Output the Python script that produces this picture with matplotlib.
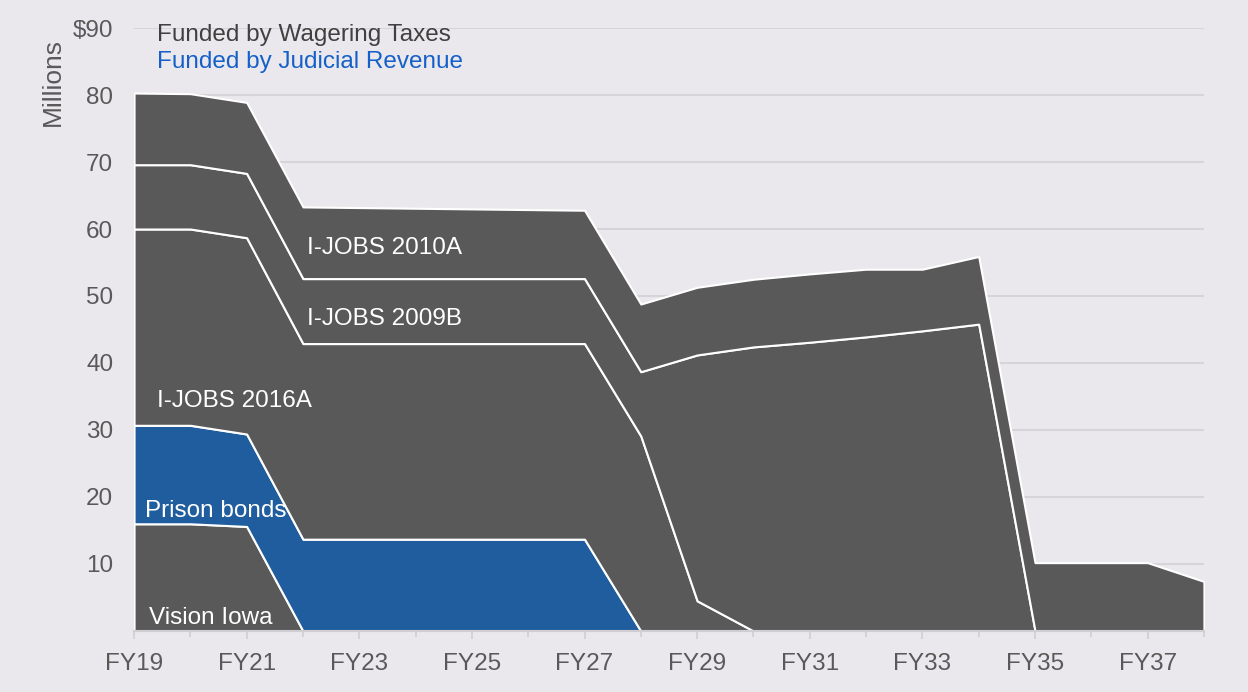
import numpy as np
import matplotlib.pyplot as plt

plt.rcParams["font.family"] = ["Liberation Sans", "DejaVu Sans"]

# Fiscal years shown on the chart
years = list(range(19, 39))
tick_years = [19, 21, 23, 25, 27, 29, 31, 33, 35, 37]
tick_labels = [f"FY{y}" for y in tick_years]

# Annual debt service by bond series, $ millions
#              FY19  FY20  FY21  FY22  FY23  FY24  FY25  FY26  FY27  FY28
#              FY29  FY30  FY31  FY32  FY33  FY34  FY35  FY36  FY37  FY38
vision_iowa = [16.0, 16.0, 15.6, 0, 0, 0, 0, 0, 0, 0,
               0, 0, 0, 0, 0, 0, 0, 0, 0, 0]
prison_bonds = [14.7, 14.7, 13.8, 13.7, 13.7, 13.7, 13.7, 13.7, 13.7, 0,
                0, 0, 0, 0, 0, 0, 0, 0, 0, 0]
ijobs_2016a = [29.3, 29.3, 29.3, 29.2, 29.2, 29.2, 29.2, 29.2, 29.2, 29.1,
               4.5, 0, 0, 0, 0, 0, 0, 0, 0, 0]
ijobs_2009b = [9.6, 9.6, 9.6, 9.7, 9.7, 9.7, 9.7, 9.7, 9.7, 9.6,
               36.7, 42.4, 43.1, 43.9, 44.8, 45.8, 0, 0, 0, 0]
ijobs_2010a = [10.7, 10.6, 10.6, 10.7, 10.6, 10.5, 10.4, 10.3, 10.2, 10.1,
               10.1, 10.1, 10.2, 10.1, 9.2, 10.1, 10.2, 10.2, 10.2, 7.4]

series = [vision_iowa, prison_bonds, ijobs_2016a, ijobs_2009b, ijobs_2010a]
colors = ["#595959", "#1f5d9e", "#595959", "#595959", "#595959"]

bg = "#eae8ec"
fs = 17.5
fig = plt.figure(figsize=(12.48, 6.92), dpi=100, facecolor=bg)
ax = fig.add_axes([0.1074, 0.0882, 0.8573, 0.8713], facecolor=bg)

ax.stackplot(years, *series, colors=colors, edgecolor="white",
             linewidth=1.5, zorder=2)

ax.set_xlim(19, 38)
ax.set_ylim(0, 90)
ax.set_yticks(range(10, 100, 10))
ax.set_yticklabels([str(v) for v in range(10, 90, 10)] + ["$90"])
ax.set_xticks(years, minor=True)
ax.set_xticks(tick_years)
ax.set_xticklabels(tick_labels)
ax.grid(axis="y", color="#d6d4d8", linewidth=1.5, zorder=0)
ax.set_axisbelow(True)

for s in ["top", "right", "left"]:
    ax.spines[s].set_visible(False)
ax.spines["bottom"].set_color("#d0ced2")
ax.spines["bottom"].set_linewidth(1.5)
ax.tick_params(axis="y", length=0, labelsize=fs, labelcolor="#595959", pad=15)
ax.tick_params(axis="x", which="both", length=6, color="#d0ced2", width=1.2,
               labelsize=fs, labelcolor="#595959", pad=10)
ax.tick_params(axis="x", which="minor", length=4)

fig.text(0.042, 0.882, "Millions", rotation=90, ha="center", va="center",
         fontsize=19, color="#595959")

# Legend-style annotations
ax.text(19.4, 88.9, "Funded by Wagering Taxes", fontsize=fs, color="#404040",
        va="center")
ax.text(19.4, 84.9, "Funded by Judicial Revenue", fontsize=fs, color="#1560c8",
        va="center")

# Series labels
lab = dict(fontsize=fs, color="white", va="center", zorder=3)
ax.text(22.07, 57.2, "I-JOBS 2010A", **lab)
ax.text(22.07, 46.6, "I-JOBS 2009B", **lab)
ax.text(19.4, 34.4, "I-JOBS 2016A", **lab)
ax.text(19.2, 17.9, "Prison bonds", **lab)
ax.text(19.27, 2.0, "Vision Iowa", **lab)

fig.savefig("out.png", dpi=100, facecolor=bg)
